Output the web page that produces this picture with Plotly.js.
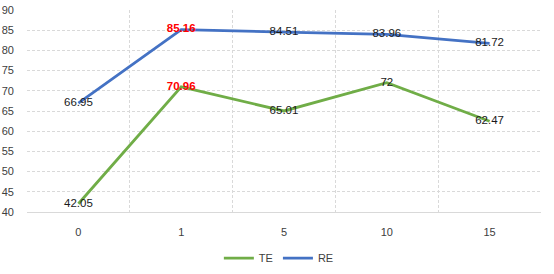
<!DOCTYPE html>
<html>
<head>
<meta charset="utf-8">
<script src="https://cdn.plot.ly/plotly-3.0.1.min.js"></script>
<style>html,body{margin:0;padding:0;background:#fff;}#chart{width:554px;height:274px;}</style>
</head>
<body>
<div id="chart"></div>
<script>
const categories = ['0', '1', '5', '10', '15'];
const teValues = [42.05, 70.96, 65.01, 72, 62.47];
const reValues = [66.95, 85.16, 84.51, 83.96, 81.72];
const highlighted = [false, true, false, false, false];
const yTicks = [40, 45, 50, 55, 60, 65, 70, 75, 80, 85, 90];

function labels(vals) {
  return vals.map((v, i) => highlighted[i] ? '<b>' + v + '</b>' : String(v));
}
function labelColors() {
  return highlighted.map(h => h ? '#FF0000' : '#1a1a1a');
}

const font = 'Liberation Sans, Arial, sans-serif';

const traces = [
  {
    name: 'TE', x: categories, y: teValues, type: 'scatter', mode: 'lines+text',
    line: {color: '#70AD47', width: 2.8},
    text: labels(teValues), textposition: 'middle center',
    textfont: {family: font, size: 11.5, color: labelColors()},
    hoverinfo: 'skip'
  },
  {
    name: 'RE', x: categories, y: reValues, type: 'scatter', mode: 'lines+text',
    line: {color: '#4472C4', width: 2.8},
    text: labels(reValues), textposition: 'middle center',
    textfont: {family: font, size: 11.5, color: labelColors()},
    hoverinfo: 'skip'
  }
];

const layout = {
  width: 554, height: 274,
  margin: {l: 27, r: 13, t: 10, b: 62, autoexpand: false},
  paper_bgcolor: '#ffffff', plot_bgcolor: '#ffffff',
  font: {family: font, size: 11, color: '#404040'},
  showlegend: true,
  legend: {orientation: 'h', x: 0.49, xanchor: 'center', yref: 'container', y: 0.058, yanchor: 'middle',
           itemwidth: 30, font: {family: font, size: 11, color: '#404040'}},
  xaxis: {
    type: 'category', range: [-0.5, 4.5], tickson: 'boundaries', automargin: false,
    showgrid: true, gridcolor: '#D9D9D9', griddash: '3px,2px', gridwidth: 1,
    showline: true, linecolor: '#D9D9D9', linewidth: 1,
    ticks: '', ticklen: 0, zeroline: false, ticklabelstandoff: 10,
    tickfont: {family: font, size: 11, color: '#404040'}
  },
  yaxis: {
    range: [40, 90], tickvals: yTicks, ticktext: yTicks.map(String), automargin: false,
    showgrid: true, gridcolor: '#D9D9D9', griddash: '3px,2px', gridwidth: 1,
    zeroline: false, showline: false, ticks: '', ticklabelstandoff: 12,
    tickfont: {family: font, size: 11, color: '#404040'}
  }
};

Plotly.newPlot('chart', traces, layout, {staticPlot: true, displayModeBar: false});
</script>
</body>
</html>
